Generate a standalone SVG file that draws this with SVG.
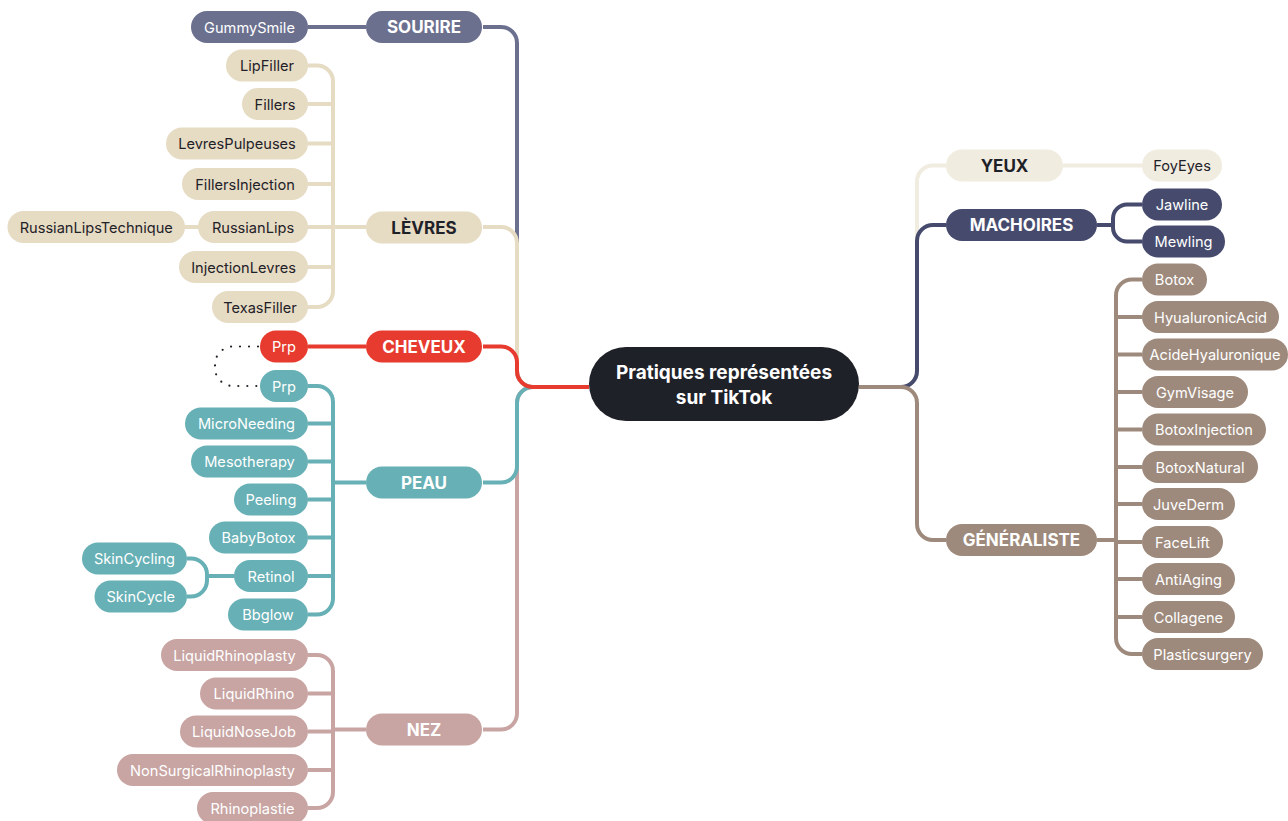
<svg xmlns="http://www.w3.org/2000/svg" width="1288" height="821" viewBox="0 0 1288 821">
<style>
.c{fill:none;stroke-width:4;stroke-linecap:butt}
.t{font-family:Inter,"Liberation Sans",sans-serif;font-size:14.6px;text-anchor:middle}
.h{font-family:Inter,"Liberation Sans",sans-serif;font-size:17px;font-weight:700;text-anchor:middle}
.w{fill:#fff}.d{fill:#1f2128}
.sou{fill:#6b708f}.lev{fill:#e6dbc3}.che{fill:#e63b2e}.pea{fill:#67b0b5}.nez{fill:#c8a5a3}
.yeu{fill:#f1ece0}.mac{fill:#464b6e}.gen{fill:#9e8a7c}
</style>
<rect width="1288" height="821" fill="#fff"/>
<g id="connectors">
<path class="c" stroke="#6b708f" d="M483,27 H501 A16,16 0 0 1 517,43 V371 A16,16 0 0 0 533,387 H589 M308,27 H366"/>
<path class="c" stroke="#e6dbc3" d="M483,227 H501 A16,16 0 0 1 517,243 V371 A16,16 0 0 0 533,387 H589"/>
<path class="c" stroke="#e6dbc3" d="M308,65.5 H317 A16,16 0 0 1 333,81.5 V291 A16,16 0 0 1 317,307 H308 M308,104 H333 M308,143.5 H333 M308,184 H333 M308,227 H366 M308,267 H333 M185,227 H198"/>
<path class="c" stroke="#c8a5a3" d="M483,729.5 H501 A16,16 0 0 0 517,713.5 V403 A16,16 0 0 1 533,387 H589"/>
<path class="c" stroke="#c8a5a3" d="M308,655 H317 A16,16 0 0 1 333,671 V792 A16,16 0 0 1 317,808 H308 M308,693.5 H333 M308,731.5 H333 M333,729.5 H366 M308,770 H333"/>
<path class="c" stroke="#67b0b5" d="M483,482.5 H501 A16,16 0 0 0 517,466.5 V403 A16,16 0 0 1 533,387 H589"/>
<path class="c" stroke="#67b0b5" d="M308,386 H317 A16,16 0 0 1 333,402 V598.5 A16,16 0 0 1 317,614.5 H308 M308,423.5 H333 M308,461.5 H333 M333,482.5 H366 M308,499.5 H333 M308,537.5 H333 M308,576 H333 M187,558.5 H191 A16,16 0 0 1 207,574.5 V580.5 A16,16 0 0 1 191,596.5 H187 M207,576 H234"/>
<path class="c" stroke="#e63b2e" d="M483,346.5 H501 A16,16 0 0 1 517,362.5 V371 A16,16 0 0 0 533,387 H589 M308,346.5 H366"/>
<path fill="none" stroke="#1f2128" stroke-width="2.2" stroke-linecap="round" stroke-dasharray="0 9" d="M258,346.5 H233 A18,18 0 0 0 215,364.5 V368 A18,18 0 0 0 233,386 H258"/>
<path class="c" stroke="#f1ece0" d="M859,387 H901 A16,16 0 0 0 917,371 V181.5 A16,16 0 0 1 933,165.5 H946 M1063,165.5 H1142"/>
<path class="c" stroke="#464b6e" d="M859,387 H901 A16,16 0 0 0 917,371 V241 A16,16 0 0 1 933,225 H946 M1097,225 H1113 M1142,204.5 H1127 A14,14 0 0 0 1113,218.5 V227.5 A14,14 0 0 0 1127,241.5 H1142"/>
<path class="c" stroke="#9e8a7c" d="M859,387 H901 A16,16 0 0 1 917,403 V524 A16,16 0 0 0 933,540 H946 M1097,540 H1116 M1142,279.5 H1132 A16,16 0 0 0 1116,295.5 V638 A16,16 0 0 0 1132,654 H1142 M1116,317 H1142 M1116,354.5 H1142 M1116,392 H1142 M1116,429.5 H1142 M1116,467 H1142 M1116,504 H1142 M1116,542 H1142 M1116,579 H1142 M1116,617 H1142"/>
</g>
<g id="center"><rect x="589" y="347" width="270" height="74" rx="37" fill="#1f2128"/><text x="724" y="379" class="h w" style="font-size:19px">Pratiques représentées</text><text x="724" y="404" class="h w" style="font-size:19px">sur TikTok</text></g>
<g id="sourire"><rect class="sou" x="366" y="11" width="116" height="32" rx="16"/><text class="h w" x="424" y="33">SOURIRE</text></g>
<g id="gummysmile"><rect class="sou" x="191" y="11" width="117" height="32" rx="16"/><text class="t w" x="249.5" y="32.5">GummySmile</text></g>
<g id="levres"><rect class="lev" x="366" y="211.5" width="116" height="32" rx="16"/><text class="h d" x="424" y="233.5">LÈVRES</text></g>
<g id="lipfiller"><rect class="lev" x="226" y="49.5" width="82" height="32" rx="16"/><text class="t d" x="267" y="71">LipFiller</text></g>
<g id="fillers"><rect class="lev" x="242" y="88" width="66" height="32" rx="16"/><text class="t d" x="275" y="109.5">Fillers</text></g>
<g id="levrespulpeuses"><rect class="lev" x="166" y="127.5" width="142" height="32" rx="16"/><text class="t d" x="237" y="149">LevresPulpeuses</text></g>
<g id="fillersinjection"><rect class="lev" x="182" y="168" width="126" height="32" rx="16"/><text class="t d" x="245" y="189.5">FillersInjection</text></g>
<g id="russianlips"><rect class="lev" x="198" y="211" width="110" height="32" rx="16"/><text class="t d" x="253" y="232.5">RussianLips</text></g>
<g id="russianlipstechnique"><rect class="lev" x="7.5" y="211" width="177.5" height="32" rx="16"/><text class="t d" x="96.25" y="232.5">RussianLipsTechnique</text></g>
<g id="injectionlevres"><rect class="lev" x="179" y="251" width="129" height="32" rx="16"/><text class="t d" x="243.5" y="272.5">InjectionLevres</text></g>
<g id="texasfiller"><rect class="lev" x="212" y="291" width="96" height="32" rx="16"/><text class="t d" x="260" y="312.5">TexasFiller</text></g>
<g id="cheveux"><rect class="che" x="366" y="330.5" width="116" height="32" rx="16"/><text class="h w" x="424" y="352.5">CHEVEUX</text></g>
<g id="prp-cheveux"><rect class="che" x="260" y="330.5" width="48" height="32" rx="16"/><text class="t w" x="284" y="352">Prp</text></g>
<g id="peau"><rect class="pea" x="366" y="466.5" width="116" height="32" rx="16"/><text class="h w" x="424" y="488.5">PEAU</text></g>
<g id="prp-peau"><rect class="pea" x="260" y="370" width="48" height="32" rx="16"/><text class="t w" x="284" y="391.5">Prp</text></g>
<g id="microneeding"><rect class="pea" x="185" y="407.5" width="123" height="32" rx="16"/><text class="t w" x="246.5" y="429">MicroNeeding</text></g>
<g id="mesotherapy"><rect class="pea" x="191" y="445.5" width="117" height="32" rx="16"/><text class="t w" x="249.5" y="467">Mesotherapy</text></g>
<g id="peeling"><rect class="pea" x="234" y="483.5" width="74" height="32" rx="16"/><text class="t w" x="271" y="505">Peeling</text></g>
<g id="babybotox"><rect class="pea" x="209" y="521.5" width="99" height="32" rx="16"/><text class="t w" x="258.5" y="543">BabyBotox</text></g>
<g id="retinol"><rect class="pea" x="234" y="560" width="74" height="32" rx="16"/><text class="t w" x="271" y="581.5">Retinol</text></g>
<g id="bbglow"><rect class="pea" x="228" y="598.5" width="80" height="32" rx="16"/><text class="t w" x="268" y="620">Bbglow</text></g>
<g id="skincycling"><rect class="pea" x="82" y="542.5" width="105" height="32" rx="16"/><text class="t w" x="134.5" y="564">SkinCycling</text></g>
<g id="skincycle"><rect class="pea" x="94.5" y="580.5" width="92.5" height="32" rx="16"/><text class="t w" x="140.75" y="602">SkinCycle</text></g>
<g id="nez"><rect class="nez" x="366" y="713.5" width="116" height="32" rx="16"/><text class="h w" x="424" y="735.5">NEZ</text></g>
<g id="liquidrhinoplasty"><rect class="nez" x="161" y="639" width="147" height="32" rx="16"/><text class="t w" x="234.5" y="660.5">LiquidRhinoplasty</text></g>
<g id="liquidrhino"><rect class="nez" x="200" y="677.5" width="108" height="32" rx="16"/><text class="t w" x="254" y="699">LiquidRhino</text></g>
<g id="liquidnosejob"><rect class="nez" x="180" y="715.5" width="128" height="32" rx="16"/><text class="t w" x="244" y="737">LiquidNoseJob</text></g>
<g id="nonsurgicalrhinoplasty"><rect class="nez" x="117" y="754" width="191" height="32" rx="16"/><text class="t w" x="212.5" y="775.5">NonSurgicalRhinoplasty</text></g>
<g id="rhinoplastie"><rect class="nez" x="197" y="792" width="111" height="32" rx="16"/><text class="t w" x="252.5" y="813.5">Rhinoplastie</text></g>
<g id="yeux"><rect class="yeu" x="946" y="149.5" width="117" height="32" rx="16"/><text class="h d" x="1004.5" y="171.5">YEUX</text></g>
<g id="foyeyes"><rect class="yeu" x="1142" y="149.5" width="80" height="32" rx="16"/><text class="t d" x="1182" y="171">FoyEyes</text></g>
<g id="machoires"><rect class="mac" x="946" y="209" width="151" height="32" rx="16"/><text class="h w" x="1021.5" y="231">MACHOIRES</text></g>
<g id="jawline"><rect class="mac" x="1142" y="188.5" width="80" height="32" rx="16"/><text class="t w" x="1182" y="210">Jawline</text></g>
<g id="mewling"><rect class="mac" x="1142" y="225.5" width="83" height="32" rx="16"/><text class="t w" x="1183.5" y="247">Mewling</text></g>
<g id="generaliste"><rect class="gen" x="946" y="524" width="151" height="32" rx="16"/><text class="h w" x="1021.5" y="546">GÉNÉRALISTE</text></g>
<g id="botox"><rect class="gen" x="1142" y="263.5" width="65" height="32" rx="16"/><text class="t w" x="1174.5" y="285">Botox</text></g>
<g id="hyualuronicacid"><rect class="gen" x="1142" y="301" width="137" height="32" rx="16"/><text class="t w" x="1210.5" y="322.5">HyualuronicAcid</text></g>
<g id="acidehyaluronique"><rect class="gen" x="1142" y="338.5" width="146" height="32" rx="16"/><text class="t w" x="1215" y="360">AcideHyaluronique</text></g>
<g id="gymvisage"><rect class="gen" x="1142" y="376" width="106" height="32" rx="16"/><text class="t w" x="1195" y="397.5">GymVisage</text></g>
<g id="botoxinjection"><rect class="gen" x="1142" y="413.5" width="124" height="32" rx="16"/><text class="t w" x="1204" y="435">BotoxInjection</text></g>
<g id="botoxnatural"><rect class="gen" x="1142" y="451" width="116" height="32" rx="16"/><text class="t w" x="1200" y="472.5">BotoxNatural</text></g>
<g id="juvederm"><rect class="gen" x="1142" y="488" width="93" height="32" rx="16"/><text class="t w" x="1188.5" y="509.5">JuveDerm</text></g>
<g id="facelift"><rect class="gen" x="1142" y="526" width="81" height="32" rx="16"/><text class="t w" x="1182.5" y="547.5">FaceLift</text></g>
<g id="antiaging"><rect class="gen" x="1142" y="563" width="93" height="32" rx="16"/><text class="t w" x="1188.5" y="584.5">AntiAging</text></g>
<g id="collagene"><rect class="gen" x="1142" y="601" width="93" height="32" rx="16"/><text class="t w" x="1188.5" y="622.5">Collagene</text></g>
<g id="plasticsurgery"><rect class="gen" x="1142" y="638" width="121" height="32" rx="16"/><text class="t w" x="1202.5" y="659.5">Plasticsurgery</text></g>
</svg>
